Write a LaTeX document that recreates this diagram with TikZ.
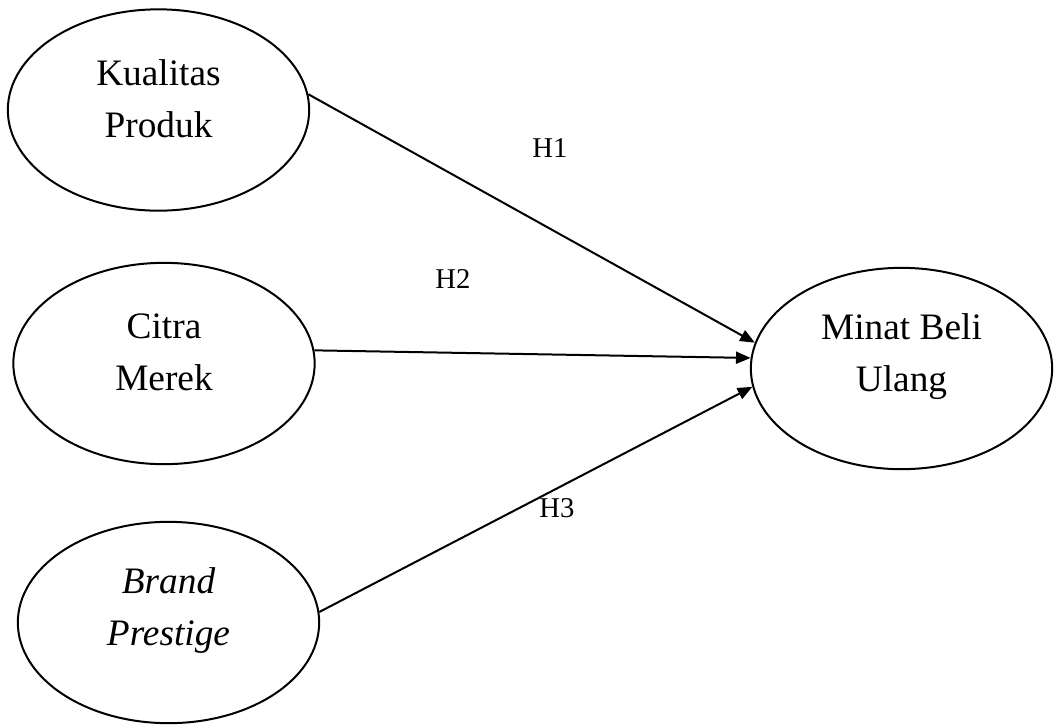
\documentclass[tikz,border=0pt]{standalone}
\usepackage{fontspec}
\setmainfont{Liberation Serif}
\usetikzlibrary{shapes.geometric,arrows.meta}

\tikzset{
  variabel/.style={draw, ellipse, line width=1.5pt, inner sep=0pt,
    minimum width=226pt, minimum height=151pt},
  vartext/.style={align=center, inner sep=0.75pt, font=\fontsize{28}{39}\selectfont},
  hiplabel/.style={inner sep=0.75pt, font=\fontsize{21.5}{26}\selectfont},
  jalur/.style={line width=1.5pt, -{Triangle[length=11pt,width=9pt]}}
}

\begin{document}
\begin{tikzpicture}[x=0.75pt,y=0.75pt,yscale=-1,xscale=1]
\useasboundingbox (0,0) rectangle (1056,726);

%Shape: Ellipse
\node [variabel] (kp) at (158.5,110) {};
%Shape: Ellipse
\node [variabel] (cm) at (164,363.5) {};
%Shape: Ellipse
\node [variabel] (bp) at (168.5,622.5) {};
%Shape: Ellipse
\node [variabel] (mbu) at (901.5,368.5) {};

% Text Node
\node [vartext] (kptext) at (158.5,99) {Kualitas\\Produk};
% Text Node
\node [vartext] (cmtext) at (164,352) {Citra\\Merek};
% Text Node
\node [vartext] (bptext) at (168.5,611) {\itshape Brand\\\itshape Prestige};
% Text Node
\node [vartext] (mbutext) at (901.5,357) {Minat Beli\\Ulang};

%Straight Lines
\draw [jalur] (kp.6) -- (mbu.170);
\draw [jalur] (cm.5) -- (mbu.176);
\draw [jalur] (bp.4) -- (mbu.187);

% Text Node
\node [hiplabel] (h1) at (550,148) {H1};
% Text Node
\node [hiplabel] (h2) at (453,279) {H2};
% Text Node
\node [hiplabel] (h3) at (557,508) {H3};

\end{tikzpicture}
\end{document}
